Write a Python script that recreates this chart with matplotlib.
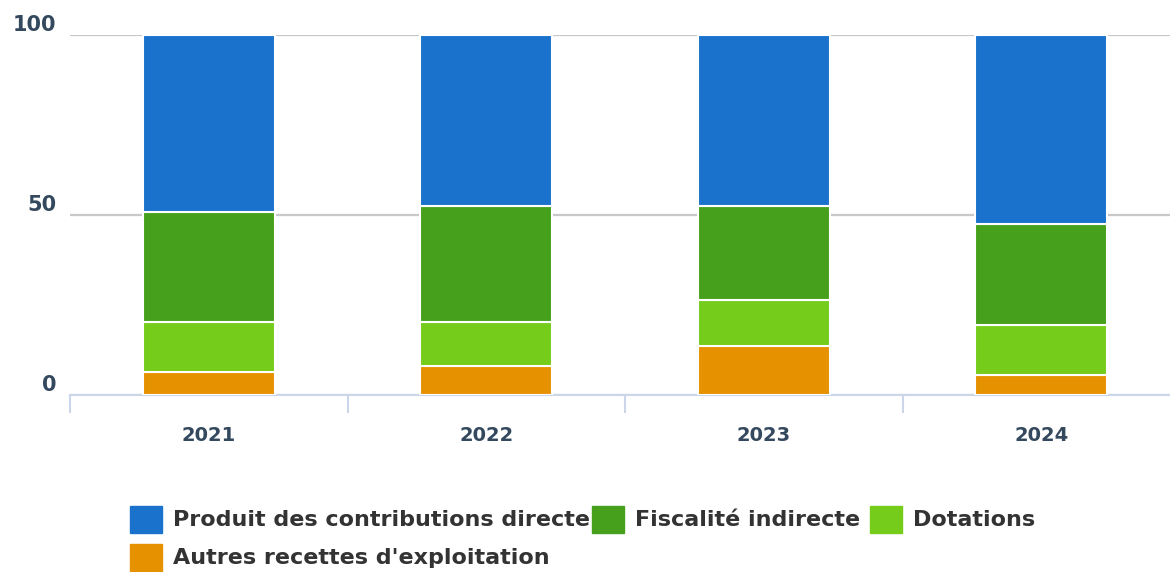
import matplotlib.pyplot as plt
from matplotlib.patches import Rectangle
import numpy as np

years = ['2021', '2022', '2023', '2024']
autres = [6.3, 8.1, 13.7, 5.6]
dotations = [13.9, 12.1, 12.7, 13.8]
fiscalite = [30.5, 32.2, 26.0, 28.0]
produit = [49.3, 47.6, 47.6, 52.6]

series = [
    ('Autres recettes d\'exploitation', autres, '#e69100'),
    ('Dotations', dotations, '#75cc1a'),
    ('Fiscalité indirecte', fiscalite, '#46a01c'),
    ('Produit des contributions directes', produit, '#1b72cc'),
]

label_color = '#34495e'
W, H = 1170, 572
fig = plt.figure(figsize=(W / 100, H / 100), dpi=100)
ax = fig.add_axes([70 / W, 1 - 395 / H, 1100 / W, 360 / H])

x = np.arange(len(years))
bottom = np.zeros(len(years))
for name, vals, col in series:
    ax.bar(x, vals, width=0.475, bottom=bottom, color=col,
           edgecolor='white', linewidth=1.5, zorder=3)
    bottom += np.array(vals)

for s in ['top', 'right', 'left']:
    ax.spines[s].set_visible(False)
ax.spines['bottom'].set_color('#ccd6eb')
ax.spines['bottom'].set_linewidth(1.5)

ax.set_yticks([0, 50, 100])
ax.yaxis.grid(True, color='#c8c8c8', linewidth=1.6, zorder=0)
ax.tick_params(axis='y', length=0, pad=10, labelsize=15, labelcolor=label_color)
for t in ax.get_yticklabels():
    t.set_fontweight('bold')
    t.set_verticalalignment('bottom')

# category labels centered, tick marks at category boundaries
ax.set_xticks(x)
ax.set_xticklabels(years, fontsize=14, fontweight='bold', color=label_color)
ax.tick_params(axis='x', length=0, pad=22)
ax.set_xticks(np.arange(len(years) + 1) - 0.5, minor=True)
ax.tick_params(axis='x', which='minor', length=13, width=1.5, color='#ccd6eb')

ax.set_xlim(-0.5, -0.5 + 1100 / 277.5)
ax.set_ylim(0, 100)

# legend drawn by hand (first label overlaps next swatch, as in reference)
leg = [
    ('Produit des contributions directe', '#1b72cc', 130, 506),
    ('Fiscalité indirecte', '#46a01c', 592, 506),
    ('Dotations', '#75cc1a', 870, 506),
    ('Autres recettes d\'exploitation', '#e69100', 130, 544),
]
for text, col, lx, ly in leg:
    fig.text((lx + 43) / W, 1 - (ly + 14) / H, text, fontsize=16,
             fontweight='bold', color='#333333', va='center', zorder=2)
    fig.add_artist(Rectangle((lx / W, 1 - (ly + 27) / H), 32 / W, 27 / H,
                             transform=fig.transFigure, color=col, zorder=3))

fig.savefig('out.png', dpi=100)
